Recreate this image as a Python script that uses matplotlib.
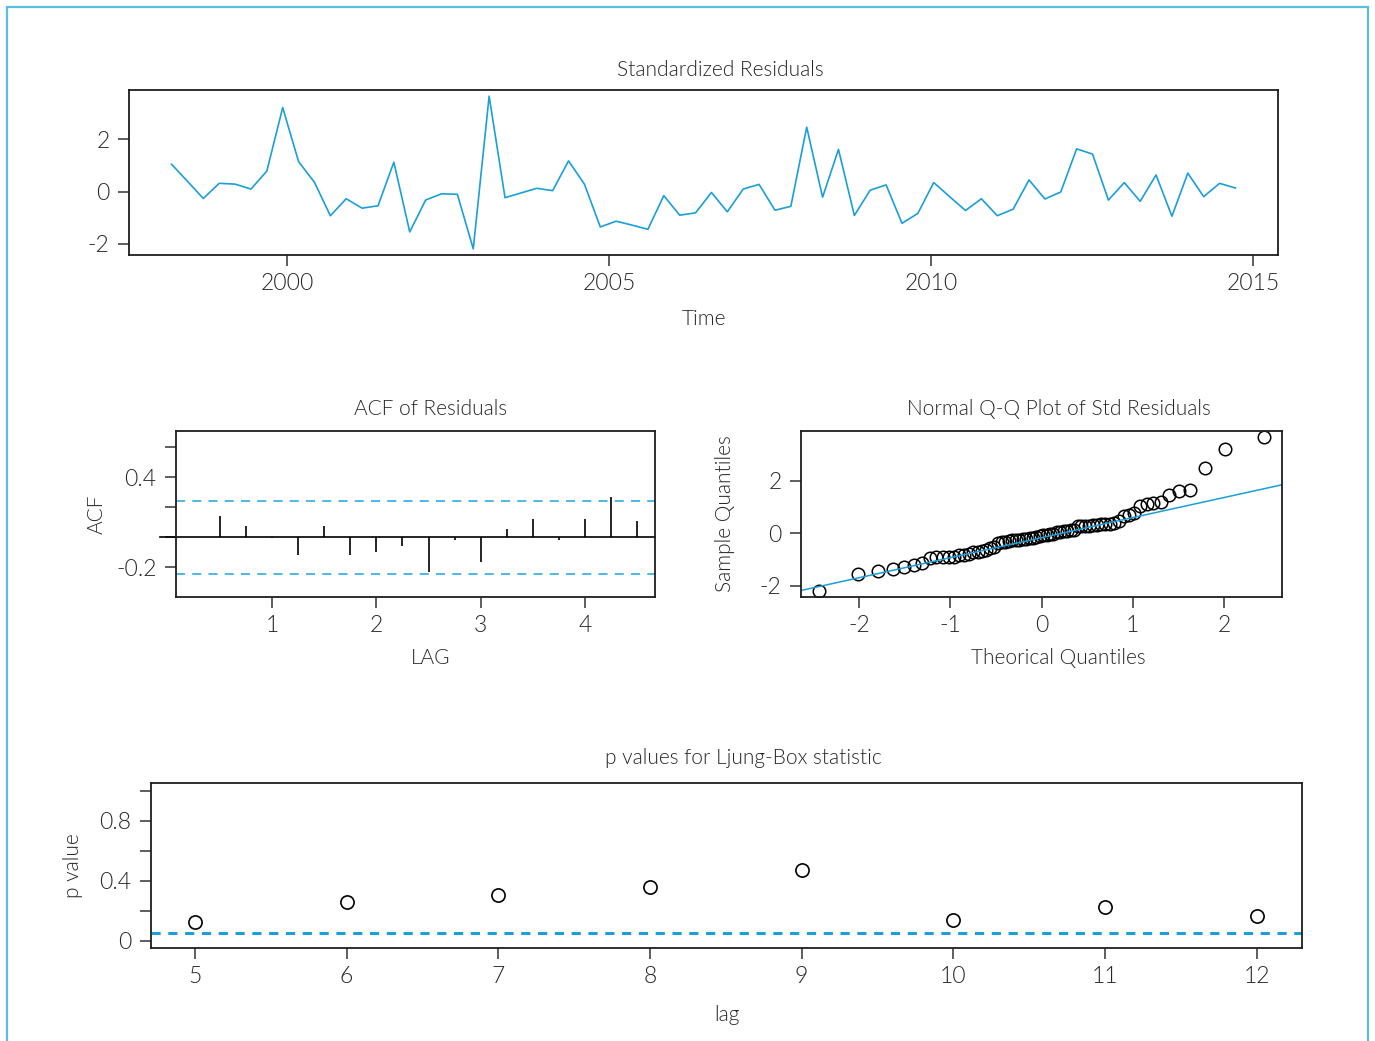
#!/usr/bin/env python3
"""Residual diagnostics panel: std residuals, ACF, normal QQ and Ljung-Box p values."""

from statistics import NormalDist

import matplotlib

matplotlib.use("Agg")
import matplotlib.pyplot as plt
import numpy as np
from matplotlib.patches import Rectangle

W, H = 1375, 1041

# standardized residuals, quarterly
t_first = 1998.2
t_last = 2014.73
resid = [
    1.05, 0.40, -0.26, 0.32, 0.29, 0.10, 0.79, 3.22, 1.15, 0.36, -0.92, -0.27,
    -0.63, -0.54, 1.13, -1.54, -0.32, -0.08, -0.10, -2.19, 3.66, -0.23, -0.05,
    0.13, 0.04, 1.18, 0.29, -1.35, -1.13, -1.28, -1.44, -0.15, -0.90, -0.81,
    -0.03, -0.77, 0.10, 0.28, -0.71, -0.56, 2.47, -0.21, 1.62, -0.91, 0.06,
    0.26, -1.21, -0.83, 0.35, -0.19, -0.72, -0.27, -0.92, -0.67, 0.45, -0.28,
    -0.01, 1.64, 1.44, -0.32, 0.35, -0.37, 0.64, -0.94, 0.71, -0.19, 0.32, 0.14,
]
year_ticks = [2000, 2005, 2010, 2015]

# ACF of residuals (lag in years)
acf_lags = [0.25, 0.5, 0.75, 1.0, 1.25, 1.5, 1.75, 2.0, 2.25, 2.5, 2.75, 3.0,
            3.25, 3.5, 3.75, 4.0, 4.25, 4.5]
acf_vals = [0.004, 0.14, 0.076, -0.004, -0.12, 0.076, -0.12, -0.10, -0.056,
            -0.236, -0.022, -0.169, 0.058, 0.124, -0.022, 0.124, 0.269, 0.109]
acf_band = 0.245

# Ljung-Box p values
lb_lags = [5, 6, 7, 8, 9, 10, 11, 12]
lb_pvals = [0.124, 0.257, 0.302, 0.355, 0.468, 0.140, 0.224, 0.164]
lb_alpha = 0.05

BLUE = "#1a9fd9"
LIGHT_BLUE = "#3db4e2"
TEXT = "#262626"
FS_TICK = 16.5
FS_LABEL = 15

plt.rcParams["font.family"] = ["Lato", "DejaVu Sans"]
plt.rcParams["font.weight"] = 300
plt.rcParams["axes.unicode_minus"] = False


def px_axes(fig, left, top, right, bottom):
    return fig.add_axes([left / W, 1 - bottom / H, (right - left) / W, (bottom - top) / H])


def style(ax, w, h, title, title_dy, title_dx, xlabel, xlabel_dy, xlabel_dx,
          ylabel=None, ylabel_dx=None):
    for s in ax.spines.values():
        s.set_linewidth(1.3)
        s.set_color("#1e1e1e")
    ax.tick_params(direction="out", length=8, width=1.1, color="#333333",
                   labelsize=FS_TICK, labelcolor=TEXT)
    ax.tick_params(axis="x", pad=5)
    ax.tick_params(axis="y", pad=6)
    for lab in ax.get_xticklabels() + ax.get_yticklabels():
        lab.set_fontweight(300)
    ax.set_title(title, x=0.5 + title_dx / w, y=1 + title_dy / h, va="center",
                 fontsize=FS_LABEL, color=TEXT, fontweight=300)
    ax.set_xlabel(xlabel, fontsize=FS_LABEL, color=TEXT, va="center", fontweight=300)
    ax.xaxis.set_label_coords(0.5 + xlabel_dx / w, -xlabel_dy / h)
    if ylabel:
        ax.set_ylabel(ylabel, fontsize=FS_LABEL, color=TEXT, va="center", fontweight=300)
        ax.yaxis.set_label_coords(-ylabel_dx / w, 0.5)


def main() -> None:
    fig = plt.figure(figsize=(W / 100, H / 100), dpi=100)
    fig.patches.append(Rectangle((7 / W, -0.05), 1361 / W, 1 - 7 / H + 0.05,
                                 transform=fig.transFigure, fill=False,
                                 edgecolor="#5bbde3", linewidth=1.6))

    res = np.array(resid)
    t = np.linspace(t_first, t_last, len(res))

    # standardized residuals
    ax = px_axes(fig, 129, 90, 1278, 255)
    ax.plot(t, res, color=BLUE, lw=1.2)
    ax.margins(x=0.04, y=0.04)
    ax.set_xticks(year_ticks)
    ax.set_yticks([-2, 0, 2])
    style(ax, 1149, 165, "Standardized Residuals", 12, 17, "Time", 64, 0)

    # ACF
    ax = px_axes(fig, 176, 431, 655, 597)
    ax.vlines(acf_lags, 0, acf_vals, color="black", lw=1.2)
    ax.axhline(0, xmin=-0.033, xmax=1, color="black", lw=1.2, clip_on=False)
    for b in (acf_band, -acf_band):
        ax.axhline(b, color=LIGHT_BLUE, lw=1.3, ls=(0, (5, 4)))
    ax.set_xlim(0.08, 4.67)
    ax.set_ylim(-0.4, 0.71)
    ax.set_xticks([1, 2, 3, 4])
    ax.set_yticks([-0.2, 0.0, 0.2, 0.4, 0.6])
    ax.set_yticklabels(["-0.2", "", "", "0.4", ""])
    style(ax, 479, 166, "ACF of Residuals", 14, 15, "LAG", 61, 15, "ACF", 79)

    # normal QQ
    ax = px_axes(fig, 801, 431, 1282, 597)
    n = len(res)
    probs = (np.arange(1, n + 1) - 0.5) / n
    theo = np.array([NormalDist().inv_cdf(p) for p in probs])
    ax.plot(theo, np.sort(res), "o", mfc="none", mec="black", ms=9, mew=1.1)
    q1, q3 = np.quantile(res, [0.25, 0.75])
    z1, z3 = NormalDist().inv_cdf(0.25), NormalDist().inv_cdf(0.75)
    slope = (q3 - q1) / (z3 - z1)
    ax.axline((z1, q1), slope=slope, color=BLUE, lw=1.1)
    ax.margins(x=0.04, y=0.04)
    ax.set_xticks([-2, -1, 0, 1, 2])
    ax.set_yticks([-2, 0, 2])
    style(ax, 481, 166, "Normal Q-Q Plot of Std Residuals", 14, 17,
          "Theorical Quantiles", 61, 17, "Sample Quantiles", 76)

    # Ljung-Box
    ax = px_axes(fig, 151, 783, 1302, 948)
    ax.plot(lb_lags, lb_pvals, "o", mfc="none", mec="black", ms=9.5, mew=1.2)
    ax.axhline(lb_alpha, color=BLUE, lw=2.2, ls=(0, (3, 2.5)))
    ax.set_xlim(4.71, 12.3)
    ax.set_ylim(-0.05, 1.05)
    ax.set_xticks(lb_lags)
    ax.set_yticks([0, 0.2, 0.4, 0.6, 0.8, 1.0])
    ax.set_yticklabels(["0", "", "0.4", "", "0.8", ""])
    style(ax, 1151, 165, "p values for Ljung-Box statistic", 17, 17, "lag", 67, 0,
          "p value", 78)

    fig.savefig("out.png", dpi=100)
    plt.close(fig)


if __name__ == "__main__":
    main()
